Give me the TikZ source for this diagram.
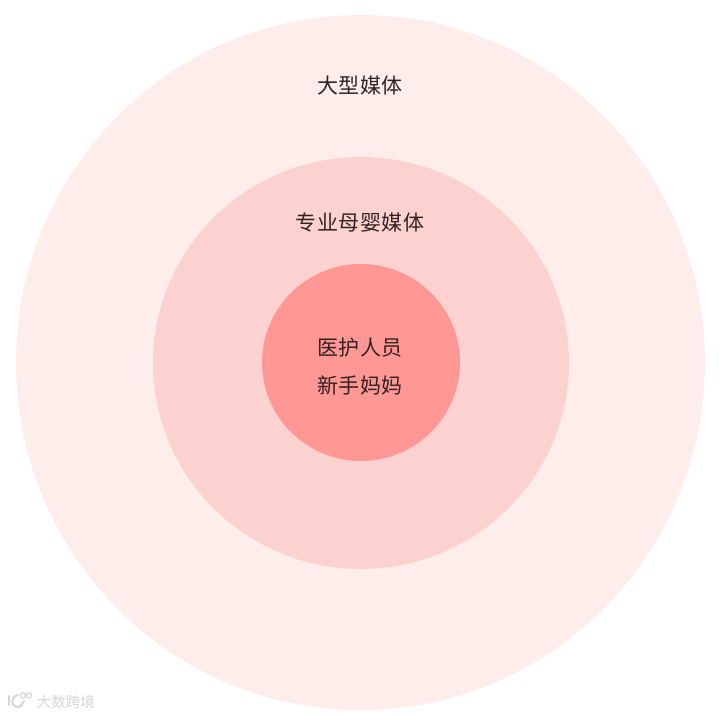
\documentclass[tikz,border=0pt]{standalone}
\usepackage{fontspec}
\usetikzlibrary{shapes.geometric}
\newfontfamily\cjk{Noto Sans CJK SC}[Scale=1]
\definecolor{ringa}{HTML}{FFEDEB}
\definecolor{ringb}{HTML}{FCD2D0}
\definecolor{ringc}{HTML}{FF9794}
\definecolor{ink}{HTML}{332222}
\definecolor{wm}{HTML}{D6D6D6}
\tikzset{x=1pt,y=-1pt,
 disc/.style={ellipse,inner sep=0pt,outer sep=0pt},
 lab/.style={font=\cjk\fontsize{21}{24}\selectfont\addfontfeature{LetterSpace=3},text=ink,inner sep=0pt},
 wmark/.style={font=\cjk\fontsize{14.5}{16}\selectfont,text=wm,inner sep=0pt},
 wline/.style={draw=wm,line width=2pt,line cap=round}}
\begin{document}
\begin{tikzpicture}
\useasboundingbox (0,0) rectangle (724,716);
\fill[white] (0,0) rectangle (724,716);
\node[disc,fill=ringa,minimum width=689pt,minimum height=695pt] (outer) at (360.5,362.5) {};
\node[disc,fill=ringb,minimum width=416pt,minimum height=412pt] (middle) at (361,363) {};
\node[disc,fill=ringc,minimum width=198pt,minimum height=197pt] (inner) at (361,362.5) {};
\node[lab] (t1) at (360,85.5) {大型媒体};
\node[lab] (t2) at (360,222.5) {专业母婴媒体};
\node[lab] (t3) at (360,347.5) {医护人员};
\node[lab] (t4) at (360,385.5) {新手妈妈};
\node[wmark] (wm) at (66,702) {大数跨境};
\draw[wline] (8.5,696) -- (8.5,705);
\draw[wline] (18,695) .. controls (11,696) and (10,706) .. (17,707) .. controls (21,707) and (23,704) .. (24,701);
\draw[wline,line width=1.2pt] (23,695.5) circle[radius=2.6];
\draw[wline,line width=1.2pt] (29,695.5) circle[radius=2.6];
\end{tikzpicture}
\end{document}
